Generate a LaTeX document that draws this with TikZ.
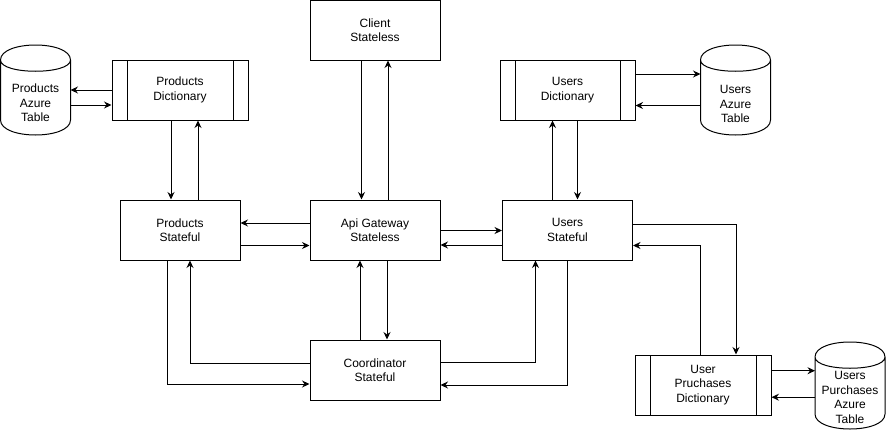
\documentclass[tikz,border=0pt]{standalone}
\usepackage{fontspec}
\setmainfont{Liberation Sans}
\usetikzlibrary{arrows.meta,calc}

\tikzset{
  txt/.style={align=center, inner sep=0pt, font=\fontsize{12}{14.4}\selectfont},
  box/.style={txt, draw, line width=1pt, minimum width=130pt, minimum height=60pt},
  procbox/.style={box, minimum width=136pt,
    path picture={
      \draw[line width=1pt]
        ([xshift=15pt]path picture bounding box.north west) -- ([xshift=15pt]path picture bounding box.south west)
        ([xshift=-15pt]path picture bounding box.north east) -- ([xshift=-15pt]path picture bounding box.south east);
    }},
  tank/.style={minimum width=70pt, minimum height=90pt, inner sep=0pt, outer sep=0pt},
  arr/.style={line width=1pt, -{Stealth[length=7.5pt,width=7pt,inset=2.5pt]}},
}

% cylinder outline drawn over the bounding box of a node
\newcommand{\drumoutline}[1]{%
  \draw[line width=1pt] let \p1=(#1.north west), \p2=(#1.south east), \n1={15pt} in
    (\x1,\y1-\n1) .. controls (\x1,\y1+\n1/3) and (\x2,\y1+\n1/3) .. (\x2,\y1-\n1)
    -- (\x2,\y2+\n1) .. controls (\x2,\y2-\n1/3) and (\x1,\y2-\n1/3) .. (\x1,\y2+\n1) -- cycle
    (\x1,\y1-\n1) .. controls (\x1,\y1-2*\n1) and (\x2,\y1-2*\n1) .. (\x2,\y1-\n1);}

\begin{document}
\begin{tikzpicture}[x=1pt, y=-1pt]
  \useasboundingbox (0,0) rectangle (886,431);

  % services
  \node[box] (client) at (375,30) {Client\\Stateless};
  \node[box, minimum width=120pt] (prodSt) at (180,230) {Products\\Stateful};
  \node[box] (api) at (375,230) {Api Gateway\\Stateless};
  \node[box] (usersSt) at (567.5,230) {Users\\Stateful};
  \node[box] (coord) at (375,370) {Coordinator\\Stateful};

  % dictionaries
  \node[procbox] (prodDict) at (180,90) {Products\\Dictionary};
  \node[procbox, minimum width=135pt] (usersDict) at (567.5,90) {Users\\Dictionary};
  \node[procbox] (purchDict) at (703,385) {User\\Pruchases\\Dictionary};

  % tables
  \node[tank] (prodTab) at (35.5,90) {};
  \drumoutline{prodTab}
  \node[txt] (prodTabText) at ([yshift=-13pt]prodTab.center) {Products\\Azure\\Table};

  \node[tank] (usersTab) at (735.5,90) {};
  \drumoutline{usersTab}
  \node[txt] (usersTabText) at ([yshift=-14pt]usersTab.center) {Users\\Azure\\Table};

  \node[tank, minimum height=87pt] (purchTab) at (850,385.5) {};
  \drumoutline{purchTab}
  \node[txt] (purchTabText) at ([yshift=-12pt]purchTab.center) {Users\\Purchases\\Azure\\Table};

  % dictionary <-> table
  \draw[arr] (prodDict.west) -- (prodDict.west -| prodTab.east);
  \draw[arr] ([yshift=-15pt]prodTab.east) -- ([yshift=-15pt]prodTab.east -| prodDict.west);
  \draw[arr] ([yshift=16pt]usersDict.east) -- ([yshift=16pt]usersDict.east -| usersTab.west);
  \draw[arr] ([yshift=-15.5pt]usersTab.west) -- ([yshift=-15.5pt]usersTab.west -| usersDict.east);
  \draw[arr] ([yshift=14.3pt]purchDict.east) -- ([yshift=14.3pt]purchDict.east -| purchTab.west);
  \draw[arr] ([yshift=-11.7pt]purchTab.west) -- ([yshift=-11.7pt]purchTab.west -| purchDict.east);

  % dictionary <-> stateful service
  \draw[arr] ([xshift=-9pt]prodDict.south) -- ([xshift=-9pt]prodDict.south |- prodSt.north);
  \draw[arr] ([xshift=18pt]prodSt.north) -- ([xshift=18pt]prodSt.north |- prodDict.south);
  \draw[arr] ([xshift=-15pt]usersSt.north) -- ([xshift=-15pt]usersSt.north |- usersDict.south);
  \draw[arr] ([xshift=10pt]usersDict.south) -- ([xshift=10pt]usersDict.south |- usersSt.north);

  % client <-> gateway
  \draw[arr] ([xshift=-13.5pt]client.south) -- ([xshift=-13.5pt]client.south |- api.north);
  \draw[arr] ([xshift=13pt]api.north) -- ([xshift=13pt]api.north |- client.south);

  % gateway <-> services
  \draw[arr] ([yshift=7pt]api.west) -- ([yshift=7pt]api.west -| prodSt.east);
  \draw[arr] ([yshift=-15.5pt]prodSt.east) -- ([yshift=-15.5pt]prodSt.east -| api.west);
  \draw[arr] ([yshift=-0.5pt]api.east) -- ([yshift=-0.5pt]api.east -| usersSt.west);
  \draw[arr] ([yshift=-15pt]usersSt.west) -- ([yshift=-15pt]usersSt.west -| api.east);
  \draw[arr] ([xshift=12pt]api.south) -- ([xshift=12pt]api.south |- coord.north);
  \draw[arr] ([xshift=-15pt]coord.north) -- ([xshift=-15pt]coord.north |- api.south);

  % users service <-> purchases dictionary
  \draw[arr] ([yshift=6pt]usersSt.east) -| ([xshift=33pt]purchDict.north);
  \draw[arr] ([xshift=-3pt]purchDict.north) |- ([yshift=-15.5pt]usersSt.east);

  % coordinator <-> stateful services
  \draw[arr] (usersSt.south) |- ([yshift=-15pt]coord.east);
  \draw[arr] ([yshift=8pt]coord.east) -| ([xshift=-32pt]usersSt.south);
  \draw[arr] ([yshift=7pt]coord.west) -| ([xshift=10pt]prodSt.south);
  \draw[arr] ([xshift=-13pt]prodSt.south) |- ([yshift=-14pt]coord.west);
\end{tikzpicture}
\end{document}
